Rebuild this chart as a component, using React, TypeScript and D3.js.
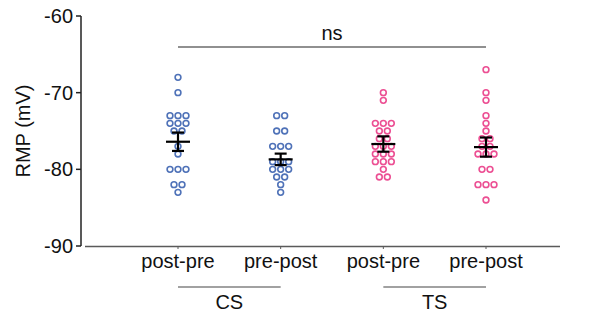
import React from "react";
import * as d3 from "d3";

const categories = ["post-pre", "pre-post", "post-pre", "pre-post"];
const groupLabels = ["CS", "TS"];
const colors = ["#4f72b8", "#4f72b8", "#ec4f93", "#ec4f93"];
const yTicks = [-60, -70, -80, -90];

const cs_postpre = [-68, -70, -73, -73, -73, -74, -74, -74, -75, -75, -77, -78, -80, -80, -80, -82, -82, -83];
const cs_prepost = [-73, -73, -75, -75, -77, -77, -77, -79, -79, -79, -80, -80, -80, -81, -81, -82, -83];
const ts_postpre = [-70, -71, -74, -74, -74, -75, -75, -76, -76, -77, -77, -77, -78, -78, -78, -79, -79, -79, -80, -81, -81];
const ts_prepost = [-67, -70, -71, -73, -74, -75, -76, -76, -77, -77, -78, -78, -78, -80, -80, -82, -82, -82, -84];
const series = [cs_postpre, cs_prepost, ts_postpre, ts_prepost];

const means = [-76.4, -78.7, -76.7, -77.1];
const sems = [1.2, 0.75, 1.0, 1.25];

export default function App() {
  const W = 590, H = 320;
  const y = d3.scaleLinear().domain([-90, -60]).range([246, 16]);
  const x = d3.scalePoint<number>().domain([0, 1, 2, 3]).range([178, 486]);
  const font = "Liberation Sans, Arial, sans-serif";
  const fs = 20;
  const spacing = 8;

  const points: { cx: number; cy: number; c: string; k: string }[] = [];
  series.forEach((vals, gi) => {
    const counts = d3.rollup(vals, (v) => v.length, (v) => v);
    counts.forEach((n, v) => {
      for (let i = 0; i < n; i++) {
        const off = (i - (n - 1) / 2) * spacing;
        points.push({ cx: (x(gi) as number) + off, cy: y(v), c: colors[gi], k: `${gi}-${v}-${i}` });
      }
    });
  });

  return (
    <svg width={W} height={H} style={{ position: "absolute", left: 0, top: 0 }}>
      <rect width={W} height={H} fill="#fff" />
      {/* y axis */}
      <line x1={81} x2={81} y1={y(-60)} y2={y(-90)} stroke="#222" strokeWidth={1.5} />
      {yTicks.map((t) => (
        <g key={t}>
          <line x1={76} x2={81} y1={y(t)} y2={y(t)} stroke="#222" strokeWidth={1.5} />
          <text x={73} y={y(t) + 7} textAnchor="end" fontFamily={font} fontSize={fs} fill="#111">
            {t}
          </text>
        </g>
      ))}
      <text
        transform={`translate(30,${y(-75)}) rotate(-90)`}
        textAnchor="middle"
        fontFamily={font}
        fontSize={fs}
        fill="#111"
      >
        RMP (mV)
      </text>
      {/* x axis */}
      <line x1={85} x2={560} y1={246.5} y2={246.5} stroke="#5a5a5a" strokeWidth={1.5} />
      {categories.map((c, i) => (
        <g key={i}>
          <line x1={x(i)} x2={x(i)} y1={246} y2={249} stroke="#5a5a5a" strokeWidth={1} />
          <text x={x(i)} y={268} textAnchor="middle" fontFamily={font} fontSize={fs} fill="#111">
            {c}
          </text>
        </g>
      ))}
      {groupLabels.map((g, gi) => {
        const x0 = x(gi * 2) as number;
        const x1 = x(gi * 2 + 1) as number;
        return (
          <g key={g}>
            <line x1={x0} x2={x1} y1={287} y2={287} stroke="#444" strokeWidth={1.2} />
            <text x={(x0 + x1) / 2} y={309} textAnchor="middle" fontFamily={font} fontSize={fs} fill="#111">
              {g}
            </text>
          </g>
        );
      })}
      {/* significance */}
      <line x1={x(0)} x2={x(3)} y1={47} y2={47} stroke="#222" strokeWidth={1.2} />
      <text x={((x(0) as number) + (x(3) as number)) / 2} y={40} textAnchor="middle" fontFamily={font} fontSize={fs} fill="#111">
        ns
      </text>
      {/* points */}
      {points.map((p) => (
        <circle key={p.k} cx={p.cx} cy={p.cy} r={2.9} fill="none" stroke={p.c} strokeWidth={1.6} />
      ))}
      {/* error bars */}
      {means.map((m, i) => {
        const cx = x(i) as number;
        return (
          <g key={i} stroke="#000" strokeWidth={2.2}>
            <line x1={cx - 12} x2={cx + 12} y1={y(m)} y2={y(m)} />
            <line x1={cx} x2={cx} y1={y(m - sems[i])} y2={y(m + sems[i])} />
            <line x1={cx - 6} x2={cx + 6} y1={y(m + sems[i])} y2={y(m + sems[i])} />
            <line x1={cx - 6} x2={cx + 6} y1={y(m - sems[i])} y2={y(m - sems[i])} />
          </g>
        );
      })}
    </svg>
  );
}
